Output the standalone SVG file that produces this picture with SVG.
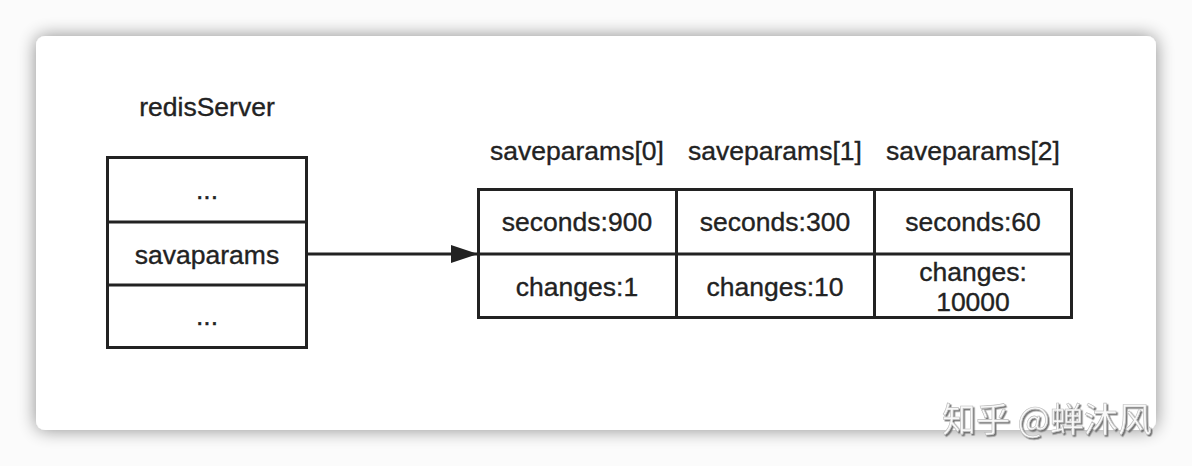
<svg xmlns="http://www.w3.org/2000/svg" width="1192" height="466" viewBox="0 0 1192 466">
<style>
.box{fill:#fff;stroke:#222;stroke-width:3}
.ln{stroke:#222;stroke-width:3;fill:none}
.t{font-family:"Liberation Sans",Arial,sans-serif;font-size:26.5px;fill:#222;stroke:#222;stroke-width:0.35;text-anchor:middle}
.wm{font-family:"Noto Sans CJK SC","Liberation Sans",sans-serif;font-size:34px;fill:#f8f8f8;stroke:#bbb;stroke-width:0.6}
</style>
<defs>
<filter id="sh" x="-10%" y="-20%" width="120%" height="140%">
<feGaussianBlur in="SourceAlpha" stdDeviation="9"/>
<feComponentTransfer><feFuncA type="linear" slope="0.45"/></feComponentTransfer>
<feMerge><feMergeNode/><feMergeNode in="SourceGraphic"/></feMerge>
</filter>
<filter id="ws" x="-10%" y="-30%" width="120%" height="160%">
<feDropShadow dx="1.5" dy="1.5" stdDeviation="0.6" flood-color="#666" flood-opacity="0.9"/>
</filter>
<marker id="ah" markerWidth="27" markerHeight="18" refX="27" refY="9" orient="auto" markerUnits="userSpaceOnUse">
<path d="M0,0 L27,9 L0,18 Z" fill="#222"/>
</marker>
</defs>
<rect width="1192" height="466" fill="#fbfbfb"/>
<rect x="36" y="36" width="1120" height="394" rx="9" fill="#fff" filter="url(#sh)"/>

<g id="redisServer">
<text class="t" x="207" y="116">redisServer</text>
<rect class="box" x="107.5" y="157.5" width="199" height="190"/>
<line class="ln" x1="107.5" y1="222" x2="306.5" y2="222"/>
<line class="ln" x1="107.5" y1="285" x2="306.5" y2="285"/>
<text class="t" x="207" y="199">...</text>
<text class="t" x="207" y="264">savaparams</text>
<text class="t" x="207" y="325">...</text>
</g>

<g id="saveparams">
<text class="t" x="577" y="160">saveparams[0]</text>
<text class="t" x="775" y="160">saveparams[1]</text>
<text class="t" x="973" y="160">saveparams[2]</text>
<rect class="box" x="478.5" y="189.5" width="593" height="128"/>
<line class="ln" x1="676.5" y1="189.5" x2="676.5" y2="317.5"/>
<line class="ln" x1="874.5" y1="189.5" x2="874.5" y2="317.5"/>
<line class="ln" x1="478.5" y1="254" x2="1071.5" y2="254"/>
<text class="t" x="577" y="231">seconds:900</text>
<text class="t" x="775" y="231">seconds:300</text>
<text class="t" x="973" y="231">seconds:60</text>
<text class="t" x="577" y="296">changes:1</text>
<text class="t" x="775" y="296">changes:10</text>
<text class="t" x="973" y="281">changes:</text>
<text class="t" x="973" y="311">10000</text>
</g>

<g id="connectors">
<line class="ln" x1="306.5" y1="254" x2="478" y2="254" marker-end="url(#ah)"/>
</g>

<text class="wm" x="942" y="432" filter="url(#ws)">知乎 @蝉沐风</text>
</svg>
